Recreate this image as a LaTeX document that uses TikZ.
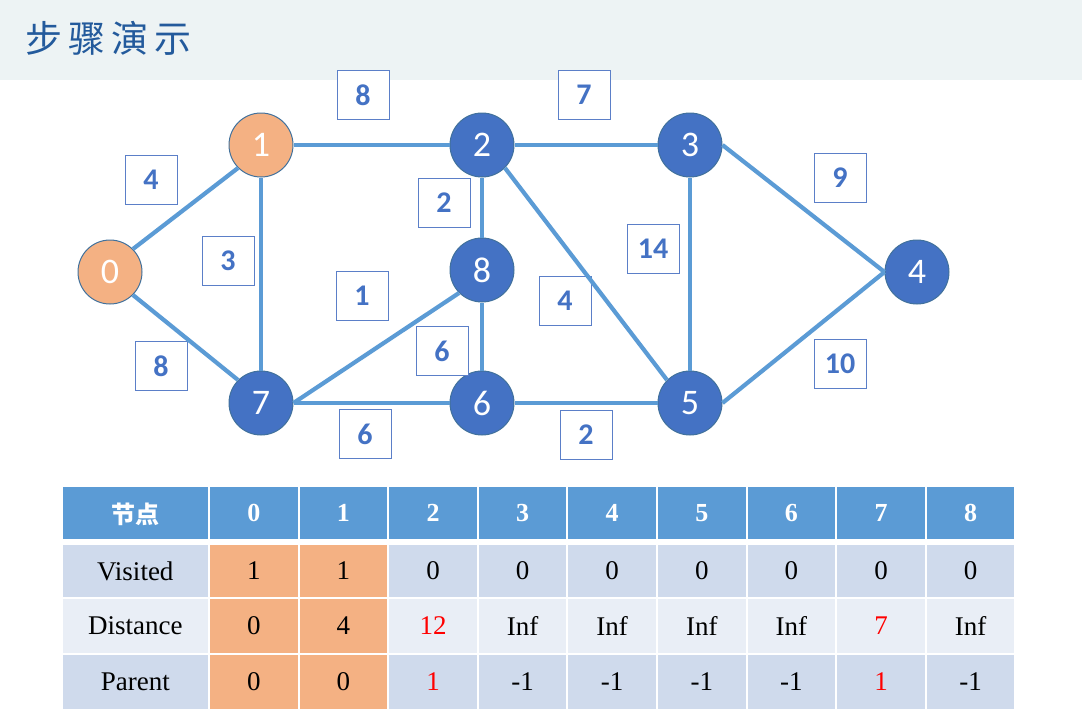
\documentclass[tikz,border=0pt]{standalone}
\usepackage{fontspec}
\setmainfont{Liberation Serif}
\newfontfamily\cjkfont{Noto Sans CJK SC}
\newfontfamily\carlitofont{Carlito}
\definecolor{titlebg}{HTML}{EDF3F4}
\definecolor{titlefg}{HTML}{235A9C}
\definecolor{edgec}{HTML}{5B9BD5}
\definecolor{vblue}{HTML}{4472C4}
\definecolor{vorange}{HTML}{F4B183}
\definecolor{vborder}{HTML}{41719C}
\definecolor{wboxc}{HTML}{5B7FC8}
\definecolor{hdrc}{HTML}{5B9BD5}
\definecolor{rowA}{HTML}{CFDAEC}
\definecolor{rowB}{HTML}{E9EEF6}
\definecolor{redc}{HTML}{FF0000}
\tikzset{
  vtx/.style={circle, minimum size=64pt, inner sep=0pt, draw=vborder, line width=1pt,
    text=white, font=\carlitofont\fontsize{36}{40}\selectfont},
  vb/.style={vtx, fill=vblue},
  vo/.style={vtx, fill=vorange},
  wbox/.style={draw=wboxc, line width=1pt, fill=white, minimum width=52pt, minimum height=49pt,
    inner sep=0pt, text=vblue, font=\carlitofont\bfseries\fontsize{30}{33}\selectfont},
  edge/.style={draw=edgec, line width=4.2pt},
  hdrtext/.style={text=white, font=\bfseries\fontsize{26}{30}\selectfont, inner sep=0pt},
  celltext/.style={text=black, font=\fontsize{27}{31}\selectfont, inner sep=0pt},
}
\begin{document}
\begin{tikzpicture}[x=1pt,y=-1pt]
\useasboundingbox (0,0) rectangle (1082,721);
% title bar
\fill[titlebg] (0,0) rectangle (1082,80);
\node[anchor=west, inner sep=0pt, text=titlefg, font=\cjkfont\fontsize{37}{40}\selectfont] (title) at (25,38.5)
  {步\hspace{6pt}骤\hspace{6pt}演\hspace{6pt}示};
% vertices
\node[vo] (n0) at (110,272) {0};
\node[vo] (n1) at (261,145) {1};
\node[vb] (n2) at (482,145) {2};
\node[vb] (n3) at (690,145) {3};
\node[vb] (n4) at (917,272) {4};
\node[vb] (n5) at (690,403) {5};
\node[vb] (n6) at (482,403) {6};
\node[vb] (n7) at (261,403) {7};
\node[vb] (n8) at (482,270) {8};
% weight boxes
\node[wbox] (w12) at (363,95) {8};
\node[wbox] (w23) at (584,95) {7};
\node[wbox] (w01) at (151,180) {4};
\node[wbox] (w17) at (228,261) {3};
\node[wbox] (w07) at (161,366) {8};
\node[wbox] (w28) at (444,203) {2};
\node[wbox] (w78) at (362,296) {1};
\node[wbox] (w86) at (442,351) {6};
\node[wbox] (w76) at (365,434) {6};
\node[wbox] (w25) at (565,301) {4};
\node[wbox] (w35) at (653,249) {14};
\node[wbox] (w65) at (586,435) {2};
\node[wbox] (w34) at (840,178) {9};
\node[wbox] (w45) at (840,364) {10};
% edges
\draw[edge] (n0.north east) -- (n1.south west);
\draw[edge] (n0.south east) -- (n7.north west);
\draw[edge] (n1.east) -- (n2.west);
\draw[edge] (n1.south) -- (n7.north);
\draw[edge] (n2.east) -- (n3.west);
\draw[edge] (n2.south) -- (n8.north);
\draw[edge] (n2.south east) -- (n5.north west);
\draw[edge] (n3.east) -- (n4.west);
\draw[edge] (n3.south) -- (n5.north);
\draw[edge] (n5.east) -- (n4.west);
\draw[edge] (n7.east) -- (n8.south west);
\draw[edge] (n7.east) -- (n6.west);
\draw[edge] (n8.south) -- (n6.north);
\draw[edge] (n6.east) -- (n5.west);
% table: first column
\fill[hdrc] (63,486.7) rectangle (207.7,538.7);
\node[hdrtext, font=\cjkfont\bfseries\fontsize{24}{28}\selectfont] (hlabel) at (135.3,514) {节点};
\fill[rowA] (63,545) rectangle (207.7,596.7);
\node[celltext] (lv) at (135.3,571) {Visited};
\fill[rowB] (63,598.7) rectangle (207.7,652.7);
\node[celltext] (ld) at (135.3,626) {Distance};
\fill[rowA] (63,655) rectangle (207.7,709);
\node[celltext] (lp) at (135.3,682) {Parent};
% table: data columns
\foreach \i/\fa/\fb/\v/\d/\dc/\p/\pc in {
  0/vorange/vorange/1/0/black/0/black,
  1/vorange/vorange/1/4/black/0/black,
  2/rowA/rowB/0/12/redc/1/redc,
  3/rowA/rowB/0/Inf/black/-1/black,
  4/rowA/rowB/0/Inf/black/-1/black,
  5/rowA/rowB/0/Inf/black/-1/black,
  6/rowA/rowB/0/Inf/black/-1/black,
  7/rowA/rowB/0/7/redc/1/redc,
  8/rowA/rowB/0/Inf/black/-1/black}
{
  \pgfmathsetmacro{\l}{210+89.6*\i}
  \pgfmathsetmacro{\r}{\l+87.6}
  \pgfmathsetmacro{\m}{\l+43.8}
  \fill[hdrc] (\l,486.7) rectangle (\r,538.7);
  \node[hdrtext] (h\i) at (\m,513) {\i};
  \fill[fill=\fa] (\l,545) rectangle (\r,596.7);
  \node[celltext] (v\i) at (\m,571) {\v};
  \fill[fill=\fb] (\l,598.7) rectangle (\r,652.7);
  \node[celltext, text=\dc] (d\i) at (\m,626) {\d};
  \fill[fill=\fa] (\l,655) rectangle (\r,709);
  \node[celltext, text=\pc] (p\i) at (\m,682) {\p};
}
\end{tikzpicture}
\end{document}
